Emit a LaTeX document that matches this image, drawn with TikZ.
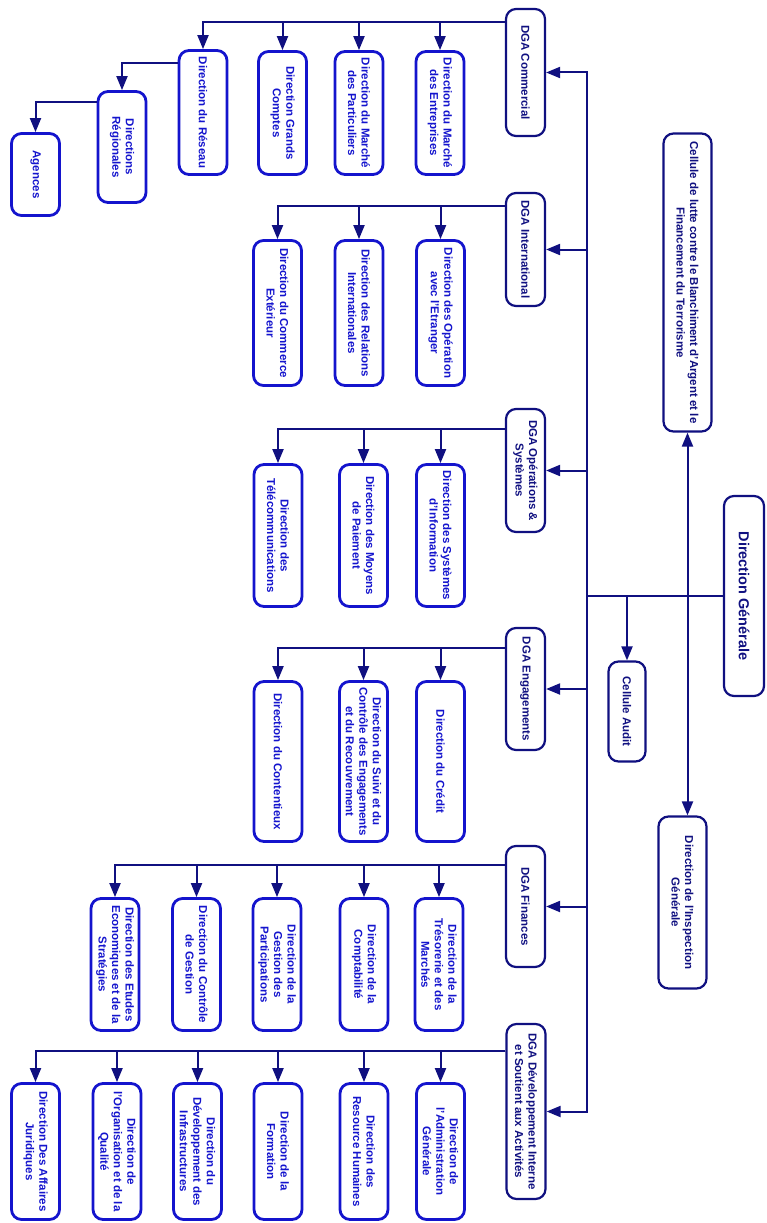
\documentclass[tikz,border=0pt]{standalone}
\usepackage{fontspec}
\setmainfont{Liberation Sans}
\usetikzlibrary{arrows.meta}
\definecolor{orgnavy}{RGB}{16,16,128}
\definecolor{orgblue}{RGB}{20,20,205}

\begin{document}
\begin{tikzpicture}[x=1pt, y=-1pt, ->, >={Triangle[length=14pt,width=11pt]},
    every edge/.style={draw=orgnavy, line width=2pt},
    hv/.style={to path={-| (\tikztotarget)}},
    vh/.style={to path={|- (\tikztotarget)}},
    box/.style={draw, rounded corners=10pt, rotate=-90, align=center, inner sep=2pt,
      font=\fontsize{11.5}{13.5}\selectfont\bfseries},
    dga/.style={box, draw=orgnavy, text=orgnavy, line width=2.2pt, minimum height=39pt},
    dir/.style={box, draw=orgblue, text=orgblue, line width=2.8pt, minimum height=48pt}]
          \useasboundingbox (0,0) rectangle (767,1223);

          \node (1) [dga, minimum width=200pt, minimum height=40pt,
            font=\fontsize{14.5}{18}\selectfont\bfseries] at (744,596) {Direction Générale};
          \node (2) [dga, minimum width=298pt, minimum height=48pt] at (687.5,282.5)
            {Cellule de lutte contre le Blanchiment d'Argent et le\\Financement du Terrorisme};
          \node (3) [dga, minimum width=100pt, minimum height=37pt] at (627,711.5) {Cellule Audit};
          \node (4) [dga, minimum width=172pt, minimum height=48pt] at (682.5,902.5)
            {Direction de l'Inspection\\Générale};
          \coordinate (0) at (587,596);

          \node (10) [dga, minimum width=127pt] at (525.5,72.5) {DGA Commercial};
          \node (11) [dir, minimum width=123pt] at (440,113) {Direction du Marché\\des Entreprises};
          \node (12) [dir, minimum width=123pt] at (359,113) {Direction du Marché\\des Particuliers};
          \node (13) [dir, minimum width=123pt] at (282.5,113) {Direction Grands\\Comptes};
          \node (14) [dir, minimum width=124pt] at (203,112.5) {Direction du Réseau};
          \node (15) [dir, minimum width=111pt] at (122,147) {Directions\\Régionales};
          \node (16) [dir, minimum width=82pt] at (35.5,174.5) {Agences};

          \node (20) [dga, minimum width=113pt] at (525.5,249.5) {DGA International};
          \node (21) [dir, minimum width=145pt] at (440.5,313) {Direction des Opération\\avec l'Etranger};
          \node (22) [dir, minimum width=145pt] at (359,313) {Direction des Relations\\Internationales};
          \node (23) [dir, minimum width=145pt] at (277.5,313) {Direction du Commerce\\Extérieur};

          \node (30) [dga, minimum width=123pt] at (525.5,470.5) {DGA Opérations \&\\Systèmes};
          \node (31) [dir, minimum width=142pt] at (440.5,535.5) {Direction des Systèmes\\d'Information};
          \node (32) [dir, minimum width=142pt] at (363.5,535.5) {Direction des Moyens\\de Paiement};
          \node (33) [dir, minimum width=142pt] at (278,535.5) {Direction des\\Télécommunications};

          \node (40) [dga, minimum width=122pt] at (525.5,689) {DGA Engagements};
          \node (41) [dir, minimum width=160pt] at (440.5,761.5) {Direction du Crédit};
          \node (42) [dir, minimum width=160pt] at (363.5,761.5)
            {Direction du Suivi et du\\Contrôle des Engagements\\et du Recouvrement};
          \node (43) [dir, minimum width=160pt] at (278,761.5) {Direction du Contentieux};

          \node (50) [dga, minimum width=121pt] at (525.5,906.5) {DGA Finances};
          \node (51) [dir, minimum width=132pt] at (439,964.5) {Direction de la\\Trésorerie et des\\Marchés};
          \node (52) [dir, minimum width=132pt] at (364,964.5) {Direction de la\\Comptabilité};
          \node (53) [dir, minimum width=132pt] at (277,964.5) {Direction de la\\Gestion des\\Participations};
          \node (54) [dir, minimum width=132pt] at (196.5,964.5) {Direction du Contrôle\\de Gestion};
          \node (55) [dir, minimum width=132pt] at (115,964.5)
            {Direction des Etudes\\Economiques et de la\\Stratégies};

          \node (60) [dga, minimum width=175pt] at (526,1111.5)
            {DGA Développement Interne\\et Soutient aux Activités};
          \node (61) [dir, minimum width=136pt] at (440.5,1151.5) {Direction de\\l'Administration\\Générale};
          \node (62) [dir, minimum width=136pt] at (364,1151.5) {Direction des\\Resource Humaines};
          \node (63) [dir, minimum width=136pt] at (278,1151.5) {Direction de la\\Formation};
          \node (64) [dir, minimum width=136pt] at (197.5,1151.5)
            {Direction du\\Développement des\\Infrastructures};
          \node (65) [dir, minimum width=136pt] at (117,1151.5)
            {Direction de\\l'Organisation et de la\\Qualité};
          \node (66) [dir, minimum width=136pt] at (35.5,1151.5) {Direction Des Affaires\\Juridiques};

          \path[-] (1) edge (0);
          \path
            (0) edge[vh] (10)
            (0) edge[vh] (20)
            (0) edge[vh] (30)
            (0) edge[vh] (40)
            (0) edge[vh] (50)
            (0) edge[vh] (60)
            (1) edge[hv] (3);
          \path[<->] (2.east) edge (2.east |- 4.west);

          \path
            ([yshift=-14pt]10.south west) edge[hv] (11) edge[hv] (12) edge[hv] (13) edge[hv] (14)
            ([yshift=-14pt]14.south west) edge[hv] (15)
            ([yshift=-12pt]15.south west) edge[hv] (16)
            ([yshift=-14pt]20.south west) edge[hv] (21) edge[hv] (22) edge[hv] (23)
            ([yshift=-21pt]30.south west) edge[hv] (31) edge[hv] (32) edge[hv] (33)
            ([yshift=-21pt]40.south west) edge[hv] (41) edge[hv] (42) edge[hv] (43)
            ([yshift=-20pt]50.south west) edge[hv] (51) edge[hv] (52) edge[hv] (53) edge[hv] (54) edge[hv] (55)
            ([yshift=-28pt]60.south west) edge[hv] (61) edge[hv] (62) edge[hv] (63) edge[hv] (64) edge[hv] (65) edge[hv] (66);

        \end{tikzpicture}
\end{document}
